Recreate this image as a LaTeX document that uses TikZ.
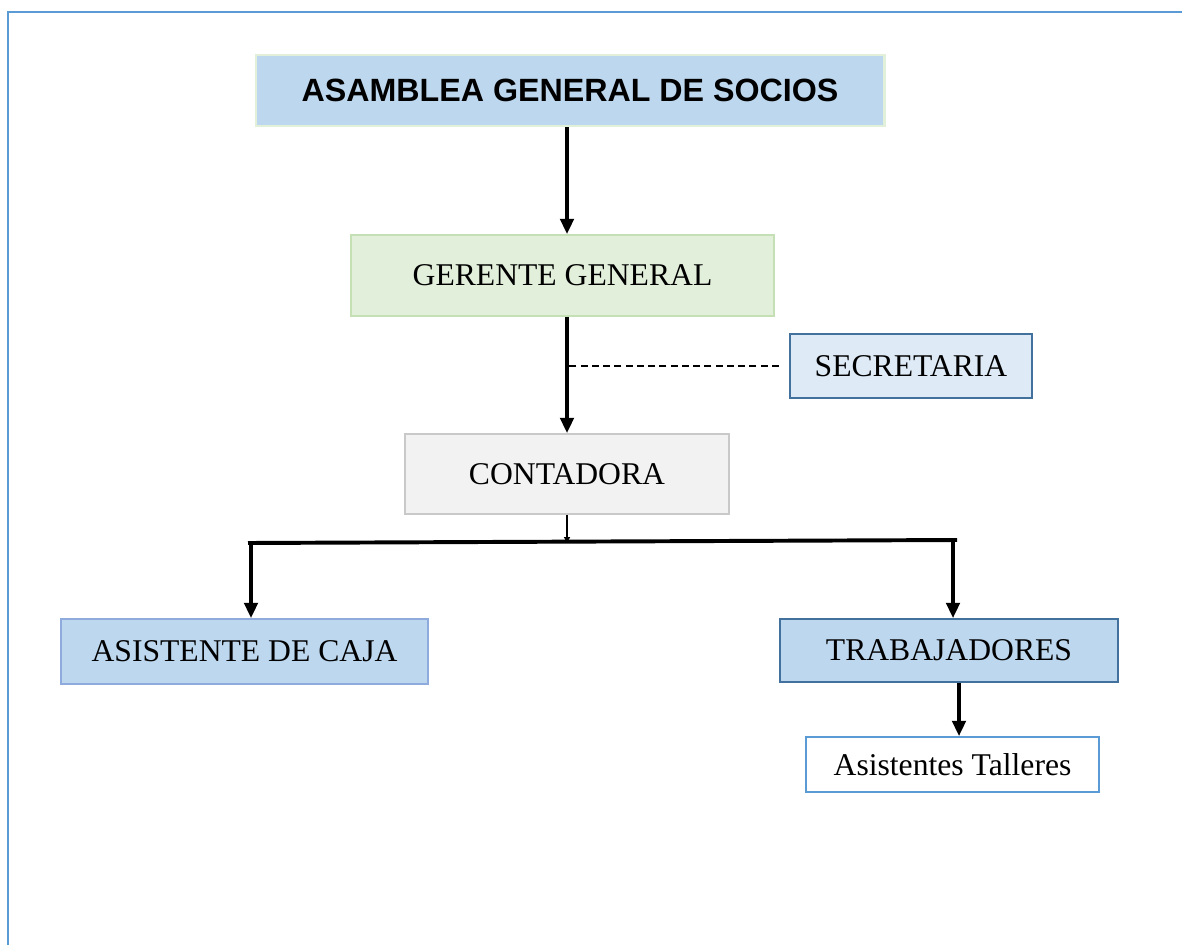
\documentclass[tikz,border=0pt]{standalone}
\usepackage{fontspec}
\setmainfont{Liberation Serif}
\newfontfamily\headfont{Liberation Sans}
\usetikzlibrary{arrows.meta}

\definecolor{framblue}{HTML}{5B9BD5}
\definecolor{boxblue}{HTML}{BDD7EE}
\definecolor{paleblue}{HTML}{DEEBF7}
\definecolor{darkblue}{HTML}{41719C}
\definecolor{cajablue}{HTML}{8FAADC}
\definecolor{boxgreen}{HTML}{E2EFDA}
\definecolor{linegreen}{HTML}{C5E0B4}
\definecolor{lightgreen}{HTML}{E2EFD9}
\definecolor{boxgray}{HTML}{F2F2F2}
\definecolor{linegray}{HTML}{C9C9C9}

\begin{document}
\begin{tikzpicture}[x=0.025cm,y=-0.025cm,
    cargo/.style={draw,line width=1.4pt,inner sep=0pt,
        font=\fontsize{22.5}{26}\selectfont},
    flecha/.style={line width=2.2pt,-{Triangle[width=0.34cm,length=0.38cm]}}]
    \useasboundingbox (0,0) rectangle (1182,945);

    % marco
    \draw[framblue,line width=2pt] (8,945)--(8,12)--(1182,12);

    \node[cargo,fill=boxblue,draw=lightgreen,line width=2pt,
        minimum width=15.7cm,minimum height=1.775cm,
        font=\headfont\bfseries\fontsize{22.9}{26}\selectfont]
        (asamblea) at (570,90.5) {ASAMBLEA GENERAL DE SOCIOS};
    \node[cargo,fill=boxgreen,draw=linegreen,
        minimum width=10.575cm,minimum height=2.025cm]
        (gerente) at (562.5,275.5) {GERENTE GENERAL};
    \node[cargo,fill=paleblue,draw=darkblue,
        minimum width=6.05cm,minimum height=1.6cm]
        (secretaria) at (911,366) {SECRETARIA};
    \node[cargo,fill=boxgray,draw=linegray,
        minimum width=8.1cm,minimum height=2cm]
        (contadora) at (567,474) {CONTADORA};
    \node[cargo,fill=boxblue,draw=cajablue,
        minimum width=9.175cm,minimum height=1.625cm]
        (caja) at (244.5,651.5) {ASISTENTE DE CAJA};
    \node[cargo,fill=boxblue,draw=darkblue,
        minimum width=8.45cm,minimum height=1.575cm]
        (trabajadores) at (949,650.5) {TRABAJADORES};
    \node[cargo,fill=white,draw=framblue,
        minimum width=7.325cm,minimum height=1.375cm]
        (talleres) at (952.5,764.5) {Asistentes Talleres};

    \coordinate (eje) at (567,0);
    \coordinate (barL) at (248,543);
    \coordinate (barR) at (957,540);
    \coordinate (bajaL) at (251,543);
    \coordinate (bajaR) at (953,540);
    \coordinate (bajaT) at (959,0);

    \draw[flecha] (asamblea.south -| eje)--(gerente.north -| eje);
    \draw[flecha] (gerente.south -| eje)--(contadora.north -| eje);
    \draw[dash pattern=on 5pt off 3pt,line width=0.8pt,shorten <=0.25cm]
        (secretaria.west)--(secretaria.west -| eje);
    \draw[line width=0.9pt,-{Triangle[width=0.15cm,length=0.15cm]}]
        (contadora.south)--(contadora.south |- barL);
    \draw[line width=2.8pt] (barL)--(barR);
    \draw[flecha] (bajaL)--(caja.north -| bajaL);
    \draw[flecha] (bajaR)--(trabajadores.north -| bajaR);
    \draw[flecha] (trabajadores.south -| bajaT)--(talleres.north -| bajaT);
\end{tikzpicture}
\end{document}
